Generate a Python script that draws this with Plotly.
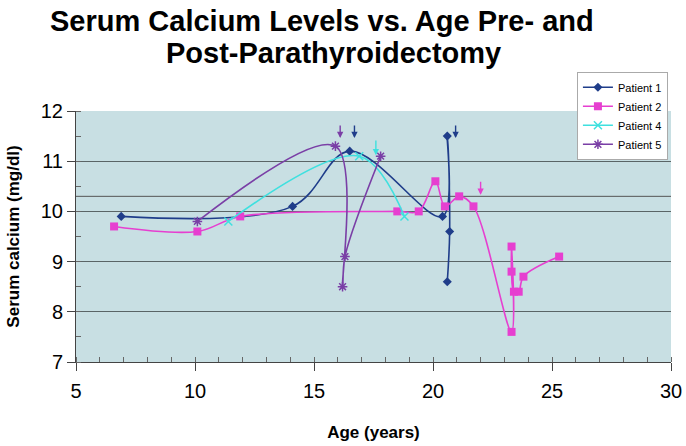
import plotly.graph_objects as go

# ---- data ----
p1_age = [6.9, 14.1, 16.5, 20.4, 20.6, 20.7, 20.6]
p1_ca = [9.9, 10.1, 11.2, 9.9, 11.5, 9.6, 8.6]

p2_age = [6.6, 10.1, 11.9, 18.5, 19.4, 20.1, 20.5, 21.1, 21.7, 23.3, 23.3, 23.3, 23.4, 23.6, 23.8, 25.3]
p2_ca = [9.7, 9.6, 9.9, 10.0, 10.0, 10.6, 10.1, 10.3, 10.1, 7.6, 9.3, 8.8, 8.4, 8.4, 8.7, 9.1]

p4_age = [11.4, 16.9, 18.8]
p4_ca = [9.8, 11.1, 9.9]

p5_age = [10.1, 15.9, 16.2, 16.3, 17.8]
p5_ca = [9.8, 11.3, 8.5, 9.1, 11.1]

# surgery arrows (age, tail value, tip value, patient)
arrow_age = [16.7, 20.95, 16.1, 17.6, 22.0]
arrow_tail = [11.74, 11.74, 11.74, 11.44, 10.62]
arrow_tip = [11.46, 11.46, 11.46, 11.12, 10.33]
arrow_patient = ["Patient 1", "Patient 1", "Patient 5", "Patient 4", "Patient 2"]

ref_level = 10.3

x_ticks = [5, 10, 15, 20, 25, 30]
y_ticks = [7, 8, 9, 10, 11, 12]

title_lines = ["Serum Calcium Levels vs. Age Pre- and", "Post-Parathyroidectomy"]

colors = {
    "Patient 1": "#1f3d8a",
    "Patient 2": "#e63fd0",
    "Patient 4": "#3fe0df",
    "Patient 5": "#7a3fa6",
}

FONT = "Liberation Sans, Arial, sans-serif"

fig = go.Figure()

series = [
    ("Patient 1", p1_age, p1_ca, dict(symbol="diamond", size=7)),
    ("Patient 2", p2_age, p2_ca, dict(symbol="square", size=8)),
    ("Patient 4", p4_age, p4_ca, dict(symbol="x-thin-open", size=8, line=dict(width=1.5))),
    ("Patient 5", p5_age, p5_ca, dict(symbol="asterisk-open", size=8, line=dict(width=1.5))),
]
for name, xs, ys, mk in series:
    c = colors[name]
    mk = dict(mk)
    mk["color"] = c
    if "line" in mk:
        mk["line"]["color"] = c
    fig.add_trace(go.Scatter(
        x=xs, y=ys, name=name, mode="lines+markers",
        line=dict(color=c, width=1.6, shape="spline", smoothing=1),
        marker=mk,
    ))

# reference line
fig.add_shape(type="line", xref="paper", x0=0, x1=1, yref="y", y0=ref_level, y1=ref_level,
              line=dict(color="#555555", width=1), layer="below")

for a, t0, t1, p in zip(arrow_age, arrow_tail, arrow_tip, arrow_patient):
    fig.add_annotation(x=a, y=t1, ax=a, ay=t0, xref="x", yref="y", axref="x", ayref="y",
                       text="", showarrow=True, arrowhead=2, arrowsize=0.9, arrowwidth=1.4,
                       arrowcolor=colors[p])

# title (two lines placed separately for tight line spacing)
fig.add_annotation(text="<b>%s</b>" % title_lines[0], xref="paper", yref="paper",
                   x=0.413, y=1.36, xanchor="center", yanchor="middle", showarrow=False,
                   font=dict(size=29, family=FONT, color="black"))
fig.add_annotation(text="<b>%s</b>" % title_lines[1], xref="paper", yref="paper",
                   x=0.432, y=1.23, xanchor="center", yanchor="middle", showarrow=False,
                   font=dict(size=29, family=FONT, color="black"))

fig.update_layout(
    width=686, height=446,
    margin=dict(l=76, r=15, t=111, b=84, autoexpand=False),
    paper_bgcolor="white",
    plot_bgcolor="#c8dfe3",
    font=dict(family=FONT, color="black"),
    legend=dict(
        xref="container", yref="container",
        x=0.841, y=0.839, xanchor="left", yanchor="top",
        bgcolor="white", bordercolor="#aaaaaa", borderwidth=1,
        font=dict(size=11, family=FONT),
        tracegroupgap=0, itemwidth=30,
    ),
    showlegend=True,
)

fig.update_xaxes(
    range=[5, 30], tickvals=x_ticks, ticks="outside", ticklen=8, tickcolor="#444",
    showline=True, linecolor="#444", linewidth=1, mirror=False, automargin=False,
    showgrid=False, zeroline=False,
    tickfont=dict(size=20, family=FONT), ticklabelstandoff=3,
    minor=dict(dtick=1, ticks="inside", ticklen=5, tickcolor="#666", showgrid=False),
    title=dict(text="<b>Age (years)</b>", font=dict(size=17, family=FONT), standoff=25),
)
fig.update_yaxes(
    range=[7, 12], tickvals=y_ticks, ticks="outside", ticklen=8, tickcolor="#444",
    showline=True, linecolor="#444", linewidth=1, automargin=False,
    showgrid=True, gridcolor="#5a6566", gridwidth=1, zeroline=False,
    tickfont=dict(size=20, family=FONT),
    minor=dict(dtick=0.5, ticks="inside", ticklen=5, tickcolor="#666", showgrid=False),
    title=dict(text="<b>Serum calcium (mg/dl)</b>", font=dict(size=17, family=FONT), standoff=16),
)

# remove the default page margin so the 686x446 figure fills the window exactly
fig.write_html("out.html",
               config={"displayModeBar": False},
               post_script="document.body.style.margin='0';document.body.style.overflow='hidden';")
